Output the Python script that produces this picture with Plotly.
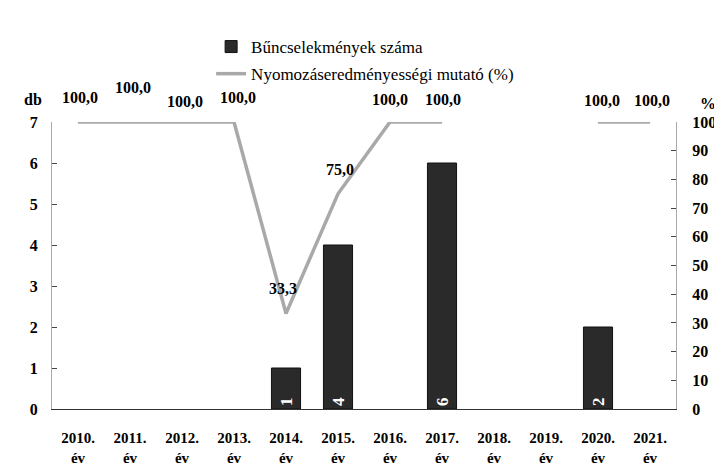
import plotly.graph_objects as go

years = [2010, 2011, 2012, 2013, 2014, 2015, 2016, 2017, 2018, 2019, 2020, 2021]
tick_labels = [f"{y}.<br>év" for y in years]
crimes = [0, 0, 0, 0, 1, 4, 0, 6, 0, 0, 2, 0]
rate = [100.0, 100.0, 100.0, 100.0, 33.3, 75.0, 100.0, 100.0, None, None, 100.0, 100.0]

# label offsets (style only)
label_yshift = [25, 35, 21, 25, 25, 24, 23, 23, 0, 0, 22, 22]
label_xshift = [2, 3, 3, 4, -3, 2, 0, 1, 0, 0, 4, 2]

bar_x = [y for y, c in zip(years, crimes) if c > 0]
bar_y = [c for c in crimes if c > 0]

serif = "Liberation Serif"

fig = go.Figure()
fig.add_trace(go.Bar(
    x=bar_x, y=bar_y, name="Bűncselekmények száma", legendgroup="a",
    marker=dict(color="#2a2a2a", line=dict(color="#111111", width=1)),
    width=0.56,
    text=[str(v) for v in bar_y], textposition="inside", insidetextanchor="start",
    textangle=-90, textfont=dict(color="white", size=17, family=serif, weight="bold"),
    yaxis="y",
))
fig.add_trace(go.Scatter(
    x=years, y=rate, name="Nyomozáseredményességi mutató (%)", legendgroup="b",
    mode="lines",
    line=dict(color="#a9a9a9", width=3.5), connectgaps=False,
    yaxis="y2",
))

annotations = []
for y, v, dy, dx in zip(years, rate, label_yshift, label_xshift):
    if v is None:
        continue
    annotations.append(dict(
        x=y, y=v, xref="x", yref="y2", text=f"<b>{v:.1f}</b>".replace(".", ","),
        showarrow=False, yshift=dy, xshift=dx,
        font=dict(size=16, family=serif, color="black"),
    ))
annotations += [
    dict(text="<b>db</b>", x=-0.030, y=1.077, xref="paper", yref="paper",
         showarrow=False, font=dict(size=16, family=serif),
         xanchor="center", yanchor="middle"),
    dict(text="<b>%</b>", x=1.052, y=1.066, xref="paper", yref="paper",
         showarrow=False, font=dict(size=16, family=serif),
         xanchor="center", yanchor="middle"),
]

fig.update_layout(
    width=714, height=457,
    margin=dict(l=44, r=46, t=114, b=56),
    paper_bgcolor="white", plot_bgcolor="white",
    font=dict(family=serif, color="black", size=14),
    showlegend=True,
    legend=dict(x=0.255, y=1.324, xanchor="left", yanchor="top",
                font=dict(size=17, family=serif), bgcolor="rgba(0,0,0,0)",
                itemwidth=30, traceorder="grouped", tracegroupgap=2),
    xaxis=dict(range=[2009.5, 2021.5], tickvals=years, ticktext=tick_labels,
               showgrid=False, zeroline=False, showline=True, linecolor="#333", linewidth=1,
               ticks="", ticklabelstandoff=15, automargin=False,
               tickfont=dict(size=15, family=serif, weight="bold")),
    yaxis=dict(range=[0, 7], dtick=1, showgrid=False, zeroline=False,
               showline=True, linecolor="#aaa", linewidth=1, ticks="inside", ticklen=5,
               tickcolor="#444", ticklabelstandoff=10, automargin=False,
               tickfont=dict(size=16, family=serif, weight="bold")),
    yaxis2=dict(range=[0, 100], dtick=10, overlaying="y", side="right",
                showgrid=False, zeroline=False, showline=True, linecolor="#aaa", linewidth=1,
                ticks="inside", ticklen=5, tickcolor="#444", ticklabelstandoff=12,
                automargin=False,
                tickfont=dict(size=16, family=serif, weight="bold")),
    annotations=annotations,
)

fig.write_html("out.html")
